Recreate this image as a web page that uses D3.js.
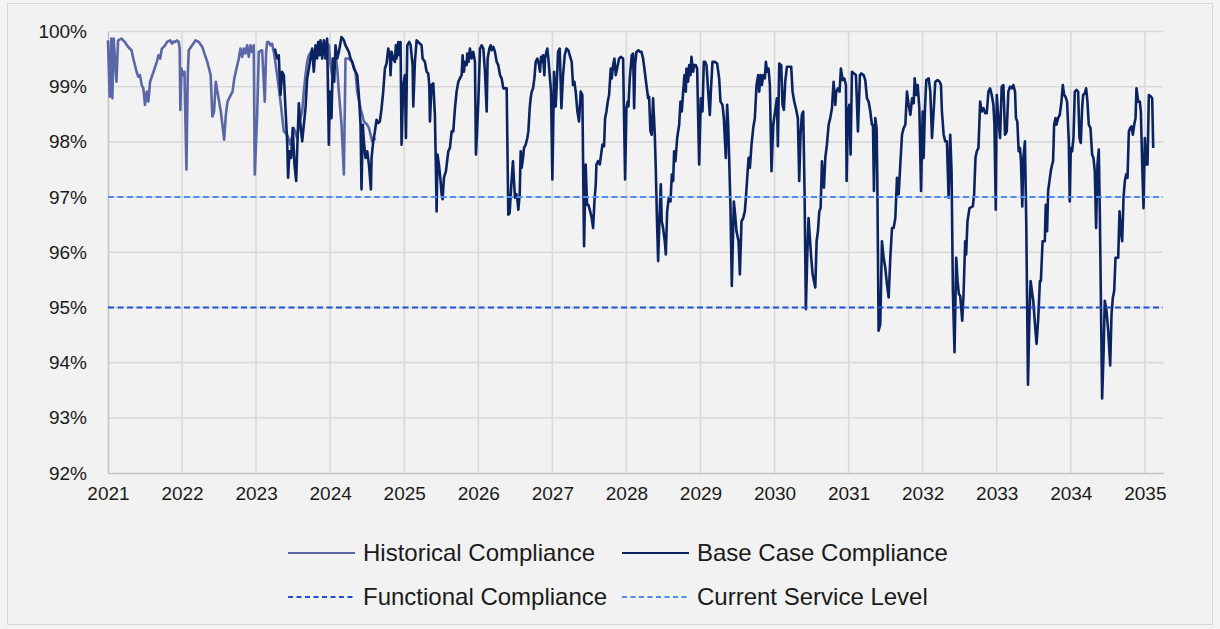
<!DOCTYPE html>
<html>
<head>
<meta charset="utf-8">
<script src="https://cdn.jsdelivr.net/npm/d3@7"></script>
<style>
  html, body { margin: 0; padding: 0; background: #f4f4f4; }
  svg { display: block; }
  text { font-family: "Liberation Sans", Arial, sans-serif; fill: #1a1a1a; }
</style>
</head>
<body>
<svg id="chart" width="1220" height="629"></svg>
<script>
// Weekly compliance, [decimal year, percent]
const historical = [
  [2021.000,99.84],[2021.023,98.82],[2021.045,99.87],[2021.059,98.79],[2021.077,99.87],[2021.114,99.09],
  [2021.136,99.84],[2021.182,99.87],[2021.227,99.81],[2021.273,99.72],[2021.318,99.66],[2021.341,99.51],
  [2021.386,99.27],[2021.409,99.18],[2021.432,99.21],[2021.455,99.03],[2021.477,98.97],[2021.500,98.67],
  [2021.523,98.91],[2021.545,98.73],[2021.568,99.09],[2021.614,99.27],[2021.659,99.45],[2021.682,99.57],
  [2021.705,99.51],[2021.727,99.69],[2021.773,99.75],[2021.795,99.81],[2021.841,99.84],[2021.864,99.78],
  [2021.886,99.82],[2021.909,99.81],[2021.932,99.84],[2021.955,99.81],[2021.968,99.69],[2021.977,98.58],
  [2021.991,99.33],[2022.014,99.21],[2022.032,99.27],[2022.059,97.50],[2022.077,99.21],[2022.091,99.66],
  [2022.136,99.75],[2022.182,99.84],[2022.227,99.81],[2022.273,99.72],[2022.295,99.63],[2022.341,99.45],
  [2022.364,99.33],[2022.386,99.21],[2022.409,98.46],[2022.432,98.55],[2022.455,99.09],[2022.477,98.91],
  [2022.500,98.73],[2022.523,98.55],[2022.545,98.31],[2022.568,98.04],[2022.591,98.49],[2022.614,98.73],
  [2022.636,98.79],[2022.659,98.85],[2022.682,98.91],[2022.705,99.15],[2022.766,99.51],[2022.788,99.69],
  [2022.811,99.54],[2022.833,99.69],[2022.856,99.60],[2022.878,99.75],[2022.901,99.54],[2022.923,99.75],
  [2022.946,99.63],[2022.968,99.75],[2022.982,97.41],[2023.014,98.49],[2023.036,99.63],[2023.081,99.66],
  [2023.117,98.73],[2023.135,99.63],[2023.149,99.81],[2023.171,99.81],[2023.194,99.75],[2023.216,99.78],
  [2023.239,99.63],[2023.284,99.21],[2023.329,98.73],[2023.374,98.19],[2023.419,98.13],[2023.464,97.95],
  [2023.509,98.25],[2023.554,98.07],[2023.577,98.31],[2023.622,98.55],[2023.644,98.91],[2023.667,99.21],
  [2023.689,99.45],[2023.712,99.57],[2023.757,99.66],[2023.802,99.63],[2023.847,99.69],[2023.892,99.75],
  [2023.937,99.81],[2023.982,99.75],[2024.005,99.39],[2024.027,99.21],[2024.072,99.57],[2024.095,99.33],
  [2024.117,98.91],[2024.153,98.31],[2024.185,97.41],[2024.207,99.51],[2024.252,99.51],[2024.297,99.45],
  [2024.342,99.27],[2024.365,98.91],[2024.410,98.61],[2024.455,98.37],[2024.500,98.31],[2024.523,98.25],
  [2024.568,98.01],[2024.613,98.07]
];

const baseCase = [
  [2023.252,99.69],[2023.284,99.51],[2023.306,99.57],[2023.329,98.85],[2023.351,99.27],[2023.374,99.21],
  [2023.396,98.61],[2023.419,98.01],[2023.432,97.35],[2023.450,97.83],[2023.473,97.71],[2023.495,98.25],
  [2023.518,97.59],[2023.541,97.29],[2023.554,97.83],[2023.577,98.70],[2023.599,98.31],[2023.622,98.01],
  [2023.644,98.31],[2023.667,98.61],[2023.689,99.15],[2023.712,99.33],[2023.734,99.51],[2023.757,99.69],
  [2023.779,99.27],[2023.802,99.75],[2023.824,99.51],[2023.838,99.81],[2023.856,99.57],[2023.869,99.84],
  [2023.892,99.51],[2023.914,99.84],[2023.937,99.51],[2023.959,99.87],[2023.982,97.95],[2023.995,98.91],
  [2024.018,98.43],[2024.036,99.51],[2024.054,99.09],[2024.072,99.75],[2024.095,99.51],[2024.117,99.63],
  [2024.153,99.90],[2024.185,99.84],[2024.207,99.75],[2024.252,99.63],[2024.275,99.51],[2024.297,99.45],
  [2024.320,99.33],[2024.342,99.27],[2024.365,99.21],[2024.387,98.85],[2024.410,98.31],[2024.423,97.14],
  [2024.441,98.31],[2024.455,98.01],[2024.477,97.71],[2024.500,97.83],[2024.523,97.59],[2024.550,97.14],
  [2024.559,97.71],[2024.581,98.01],[2024.604,98.19],[2024.626,98.40],[2024.649,98.34],[2024.671,98.37],
  [2024.694,98.61],[2024.716,98.91],[2024.739,99.33],[2024.761,99.42],[2024.784,99.69],[2024.806,99.57],
  [2024.815,99.21],[2024.829,99.63],[2024.851,99.51],[2024.874,99.45],[2024.887,99.75],[2024.896,99.51],
  [2024.919,99.81],[2024.932,99.57],[2024.950,99.81],[2024.964,97.95],[2024.986,99.03],[2025.009,99.21],
  [2025.023,98.07],[2025.041,99.75],[2025.068,99.81],[2025.086,99.75],[2025.113,99.39],[2025.122,98.64],
  [2025.144,99.45],[2025.167,99.84],[2025.189,99.81],[2025.212,99.78],[2025.234,99.75],[2025.248,99.51],
  [2025.279,99.45],[2025.302,99.27],[2025.324,99.24],[2025.338,99.03],[2025.347,98.37],[2025.369,99.03],
  [2025.392,99.06],[2025.414,98.49],[2025.428,97.47],[2025.437,96.74],[2025.450,97.77],[2025.468,97.59],
  [2025.491,97.29],[2025.505,97.05],[2025.518,96.96],[2025.536,97.35],[2025.563,97.47],[2025.595,97.83],
  [2025.617,97.89],[2025.640,98.19],[2025.662,98.19],[2025.685,98.61],[2025.707,98.91],[2025.730,99.09],
  [2025.752,99.15],[2025.775,99.21],[2025.788,99.57],[2025.806,99.27],[2025.820,99.45],[2025.842,99.39],
  [2025.851,99.60],[2025.869,99.45],[2025.887,99.69],[2025.910,99.51],[2025.932,99.63],[2025.955,99.45],
  [2025.968,97.77],[2025.977,98.01],[2026.000,98.73],[2026.023,99.69],[2026.045,99.75],[2026.068,99.69],
  [2026.090,99.27],[2026.113,98.55],[2026.126,99.51],[2026.149,99.69],[2026.167,99.75],[2026.180,99.66],
  [2026.203,99.72],[2026.225,99.63],[2026.248,99.45],[2026.270,99.39],[2026.293,99.21],[2026.315,99.15],
  [2026.338,98.97],[2026.383,98.97],[2026.405,96.68],[2026.423,96.71],[2026.446,97.23],[2026.468,97.65],
  [2026.482,97.29],[2026.495,96.99],[2026.514,97.05],[2026.527,96.96],[2026.541,96.77],[2026.559,97.05],
  [2026.572,97.83],[2026.586,97.53],[2026.604,97.71],[2026.617,97.89],[2026.640,97.95],[2026.662,98.07],
  [2026.676,98.19],[2026.694,98.61],[2026.707,98.79],[2026.721,98.91],[2026.739,98.97],[2026.757,99.15],
  [2026.775,99.45],[2026.797,99.51],[2026.820,99.39],[2026.833,99.27],[2026.847,99.54],[2026.865,99.45],
  [2026.874,99.57],[2026.892,99.21],[2026.901,99.51],[2026.919,99.63],[2026.932,99.69],[2026.946,99.51],
  [2026.964,99.21],[2026.982,98.91],[2027.000,97.32],[2027.023,99.27],[2027.045,98.64],[2027.059,99.03],
  [2027.077,99.63],[2027.099,99.69],[2027.122,98.61],[2027.144,99.21],[2027.167,99.57],[2027.189,99.69],
  [2027.216,99.66],[2027.234,99.57],[2027.261,99.45],[2027.279,99.03],[2027.297,99.09],[2027.315,98.91],
  [2027.338,98.55],[2027.360,98.37],[2027.383,98.91],[2027.405,98.85],[2027.419,97.11],[2027.428,96.11],
  [2027.450,97.59],[2027.468,96.86],[2027.486,96.86],[2027.505,96.77],[2027.532,96.62],[2027.550,96.44],
  [2027.568,96.92],[2027.586,97.23],[2027.595,97.59],[2027.617,97.65],[2027.640,97.59],[2027.658,97.77],
  [2027.676,97.95],[2027.698,97.92],[2027.712,98.43],[2027.730,98.55],[2027.748,98.73],[2027.766,98.85],
  [2027.788,99.33],[2027.802,99.15],[2027.820,99.39],[2027.838,99.51],[2027.856,99.21],[2027.874,99.33],
  [2027.901,99.51],[2027.923,99.54],[2027.955,99.51],[2027.982,97.32],[2028.000,98.61],[2028.018,98.73],
  [2028.027,98.64],[2028.045,99.15],[2028.072,99.57],[2028.090,99.60],[2028.104,98.61],[2028.117,99.39],
  [2028.135,99.63],[2028.162,99.66],[2028.185,99.63],[2028.203,99.63],[2028.225,99.51],[2028.248,99.27],
  [2028.270,99.03],[2028.293,98.79],[2028.306,98.82],[2028.324,98.19],[2028.342,98.13],[2028.360,98.79],
  [2028.383,98.13],[2028.396,97.53],[2028.414,96.50],[2028.428,95.84],[2028.450,96.74],[2028.464,97.23],
  [2028.477,96.56],[2028.495,96.44],[2028.518,96.20],[2028.532,95.96],[2028.550,96.74],[2028.572,96.99],
  [2028.595,96.92],[2028.613,97.41],[2028.631,97.29],[2028.644,97.83],[2028.662,97.65],[2028.685,98.07],
  [2028.712,98.31],[2028.730,98.73],[2028.748,98.55],[2028.766,98.91],[2028.784,99.21],[2028.802,98.91],
  [2028.811,99.33],[2028.833,99.09],[2028.847,99.39],[2028.865,99.21],[2028.878,99.54],[2028.901,99.27],
  [2028.914,99.39],[2028.937,99.39],[2028.955,99.33],[2028.982,97.59],[2029.005,98.79],[2029.027,98.55],
  [2029.045,99.45],[2029.063,99.45],[2029.081,99.39],[2029.104,98.91],[2029.126,98.49],[2029.140,98.91],
  [2029.162,99.45],[2029.194,99.45],[2029.225,99.42],[2029.252,99.15],[2029.270,98.73],[2029.297,98.67],
  [2029.315,98.43],[2029.342,97.71],[2029.360,98.67],[2029.374,98.31],[2029.387,97.71],[2029.405,96.80],
  [2029.423,95.39],[2029.450,96.92],[2029.468,96.68],[2029.486,96.38],[2029.514,96.20],[2029.532,95.60],
  [2029.554,96.56],[2029.577,96.62],[2029.599,96.74],[2029.613,96.99],[2029.631,97.35],[2029.649,97.71],
  [2029.667,97.53],[2029.689,97.95],[2029.712,98.25],[2029.734,98.43],[2029.757,99.03],[2029.779,99.21],
  [2029.793,98.91],[2029.811,99.21],[2029.829,99.03],[2029.847,99.21],[2029.869,99.15],[2029.883,99.45],
  [2029.901,99.27],[2029.919,99.33],[2029.937,99.03],[2029.959,97.47],[2029.982,98.31],[2030.032,98.79],
  [2030.045,97.92],[2030.063,99.42],[2030.090,99.39],[2030.108,98.67],[2030.126,98.58],[2030.144,99.09],
  [2030.167,99.36],[2030.225,99.36],[2030.243,98.91],[2030.266,98.73],[2030.288,98.61],[2030.315,98.43],
  [2030.333,97.29],[2030.351,98.13],[2030.369,98.49],[2030.387,98.55],[2030.405,97.11],[2030.423,94.97],
  [2030.441,95.90],[2030.459,96.62],[2030.477,96.26],[2030.495,95.90],[2030.514,95.60],[2030.532,95.48],
  [2030.550,95.36],[2030.568,96.20],[2030.586,96.38],[2030.604,96.74],[2030.622,96.80],[2030.640,97.65],
  [2030.653,97.23],[2030.667,97.17],[2030.685,97.71],[2030.707,97.95],[2030.730,98.31],[2030.752,98.43],
  [2030.775,98.61],[2030.797,99.09],[2030.820,98.67],[2030.833,98.91],[2030.856,98.97],[2030.878,98.91],
  [2030.896,99.33],[2030.919,99.12],[2030.941,99.15],[2030.964,99.03],[2030.973,97.29],[2030.991,98.55],
  [2031.009,98.67],[2031.027,97.77],[2031.045,99.27],[2031.072,99.24],[2031.099,99.21],[2031.126,98.19],
  [2031.153,99.21],[2031.171,99.24],[2031.203,99.21],[2031.225,99.12],[2031.248,98.79],[2031.270,98.73],
  [2031.293,98.55],[2031.315,98.31],[2031.329,98.31],[2031.342,97.11],[2031.360,98.43],[2031.378,98.25],
  [2031.387,97.41],[2031.405,94.58],[2031.428,94.70],[2031.450,96.20],[2031.473,95.90],[2031.495,95.72],
  [2031.518,95.42],[2031.541,95.18],[2031.563,95.90],[2031.586,96.44],[2031.608,96.44],[2031.631,96.62],
  [2031.653,97.35],[2031.676,97.05],[2031.698,97.59],[2031.721,98.13],[2031.743,98.25],[2031.766,98.31],
  [2031.788,98.91],[2031.811,98.67],[2031.834,98.49],[2031.857,98.79],[2031.879,98.70],[2031.892,99.15],
  [2031.915,98.85],[2031.933,99.03],[2031.955,98.61],[2031.978,97.11],[2032.000,98.55],[2032.013,97.71],
  [2032.031,98.61],[2032.049,99.12],[2032.081,99.15],[2032.103,98.91],[2032.126,98.07],[2032.148,98.55],
  [2032.170,99.09],[2032.202,99.12],[2032.229,99.09],[2032.247,99.03],[2032.260,98.55],[2032.283,98.13],
  [2032.305,98.01],[2032.327,98.01],[2032.350,96.99],[2032.372,98.13],[2032.390,97.47],[2032.408,95.30],
  [2032.430,94.19],[2032.453,95.90],[2032.471,95.48],[2032.489,95.24],[2032.507,95.21],[2032.534,94.76],
  [2032.552,95.24],[2032.574,96.20],[2032.587,95.96],[2032.605,96.56],[2032.632,96.80],[2032.677,96.83],
  [2032.695,97.05],[2032.713,97.71],[2032.731,97.83],[2032.753,97.89],[2032.776,98.73],[2032.798,98.55],
  [2032.821,98.61],[2032.843,98.52],[2032.865,98.52],[2032.888,98.91],[2032.910,98.97],[2032.933,98.85],
  [2032.955,98.67],[2032.969,98.31],[2032.987,96.77],[2033.000,98.85],[2033.022,98.43],[2033.045,98.07],
  [2033.067,99.00],[2033.090,99.03],[2033.112,98.13],[2033.135,98.19],[2033.157,98.91],[2033.179,99.00],
  [2033.202,98.97],[2033.224,99.03],[2033.247,98.91],[2033.260,98.43],[2033.278,98.37],[2033.296,97.83],
  [2033.314,97.89],[2033.327,97.65],[2033.345,96.83],[2033.359,97.71],[2033.381,98.01],[2033.399,96.50],
  [2033.422,93.60],[2033.439,94.70],[2033.457,95.48],[2033.475,95.30],[2033.493,95.12],[2033.516,94.70],
  [2033.538,94.34],[2033.561,94.82],[2033.583,95.48],[2033.596,95.48],[2033.619,96.20],[2033.637,96.20],
  [2033.649,96.20],[2033.662,96.86],[2033.680,96.38],[2033.694,97.11],[2033.712,97.29],[2033.730,97.47],
  [2033.748,97.59],[2033.761,97.65],[2033.775,98.31],[2033.793,98.43],[2033.806,98.31],[2033.829,98.43],
  [2033.851,98.49],[2033.874,98.73],[2033.892,99.03],[2033.910,98.85],[2033.928,98.82],[2033.950,98.73],
  [2033.973,98.01],[2033.986,96.92],[2034.000,97.89],[2034.018,97.83],[2034.036,98.07],[2034.054,98.91],
  [2034.077,98.94],[2034.099,98.91],[2034.117,98.07],[2034.135,97.98],[2034.153,98.61],[2034.167,98.85],
  [2034.189,98.88],[2034.207,98.97],[2034.225,98.73],[2034.243,98.31],[2034.266,98.25],[2034.288,97.77],
  [2034.306,97.71],[2034.324,97.47],[2034.342,96.44],[2034.360,97.59],[2034.378,97.86],[2034.392,96.74],
  [2034.405,95.30],[2034.423,93.35],[2034.441,94.10],[2034.459,95.12],[2034.482,94.94],[2034.505,94.58],
  [2034.532,93.95],[2034.550,94.88],[2034.568,95.18],[2034.586,95.30],[2034.604,95.90],[2034.640,95.90],
  [2034.658,96.74],[2034.676,96.38],[2034.694,96.20],[2034.712,96.99],[2034.730,97.29],[2034.748,97.41],
  [2034.766,97.35],[2034.784,98.19],[2034.802,98.25],[2034.820,98.28],[2034.838,98.13],[2034.856,98.31],
  [2034.874,98.43],[2034.887,98.97],[2034.910,98.73],[2034.932,98.73],[2034.946,98.55],[2034.964,97.59],
  [2034.982,96.80],[2035.000,98.07],[2035.018,97.59],[2035.036,97.59],[2035.054,98.85],[2035.081,98.82],
  [2035.099,98.79],[2035.113,97.89]
];

const functionalCompliance = 95;   // percent
const currentServiceLevel = 97;    // percent

const yearTicks = [2021, 2022, 2023, 2024, 2025, 2026, 2027, 2028, 2029, 2030, 2031, 2032, 2033, 2034, 2035];
const percentTicks = [92, 93, 94, 95, 96, 97, 98, 99, 100];

const legendItems = [
  { label: "Historical Compliance", color: "#5a66a6", dashed: false },
  { label: "Base Case Compliance", color: "#0b2461", dashed: false },
  { label: "Functional Compliance", color: "#1f50d3", dashed: true },
  { label: "Current Service Level", color: "#4a8cf7", dashed: true }
];

const svg = d3.select("#chart");

// frame
svg.append("rect")
  .attr("x", 7.5).attr("y", 3.5).attr("width", 1205).attr("height", 621)
  .attr("fill", "#f2f2f2").attr("stroke", "#d6d6d6").attr("stroke-width", 1);

const x = d3.scaleLinear().domain([2021, 2035.245]).range([108, 1163]);
const y = d3.scaleLinear().domain([92, 100]).range([473, 31.5]);

// grid
const grid = svg.append("g");
grid.selectAll("line.h").data(percentTicks.filter(d => d > 92)).join("line")
  .attr("x1", x(2021)).attr("x2", x.range()[1])
  .attr("y1", d => y(d)).attr("y2", d => y(d))
  .attr("stroke", "#d9d9d9").attr("stroke-width", 1.6);
grid.selectAll("line.v").data(yearTicks.slice(1)).join("line")
  .attr("x1", d => x(d)).attr("x2", d => x(d))
  .attr("y1", y(92)).attr("y2", y(100))
  .attr("stroke", "#d9d9d9").attr("stroke-width", 1.6);

// axes
const yAxis = svg.append("g").attr("transform", `translate(${x(2021)},0)`)
  .call(d3.axisLeft(y).tickValues(percentTicks).tickFormat(d => d + "%").tickSize(0).tickPadding(21));
const xAxis = svg.append("g").attr("transform", `translate(0,${y(92)})`)
  .call(d3.axisBottom(x).tickValues(yearTicks).tickFormat(d3.format("d")).tickSize(0).tickPadding(14));
[yAxis, xAxis].forEach(a => {
  a.select(".domain").attr("stroke", "#c4c4c4").attr("stroke-width", 1.6);
  a.selectAll("text").attr("font-size", 19).attr("fill", "#1a1a1a")
    .attr("font-family", "'Liberation Sans', Arial, sans-serif");
});

const line = d3.line().x(d => x(d[0])).y(d => y(d[1]));

svg.append("path").datum(historical)
  .attr("d", line).attr("fill", "none")
  .attr("stroke", legendItems[0].color).attr("stroke-width", 2.6).attr("stroke-linejoin", "round");
svg.append("path").datum(baseCase)
  .attr("d", line).attr("fill", "none")
  .attr("stroke", legendItems[1].color).attr("stroke-width", 2.6).attr("stroke-linejoin", "round");

// threshold levels
[[functionalCompliance, legendItems[2].color], [currentServiceLevel, legendItems[3].color]].forEach(([v, c]) => {
  svg.append("line")
    .attr("x1", x(2021)).attr("x2", x.range()[1])
    .attr("y1", y(v)).attr("y2", y(v))
    .attr("stroke", c).attr("stroke-width", 2).attr("stroke-dasharray", "6,3.5");
});

// legend
const legendPos = [[288, 553], [622, 553], [288, 597], [622, 597]];
const lg = svg.append("g");
legendItems.forEach((item, i) => {
  const [lx, ly] = legendPos[i];
  lg.append("line")
    .attr("x1", lx).attr("x2", lx + 67).attr("y1", ly).attr("y2", ly)
    .attr("stroke", item.color).attr("stroke-width", 2)
    .attr("stroke-dasharray", item.dashed ? "5,3.5" : null);
  lg.append("text")
    .attr("x", lx + 75).attr("y", ly).attr("dy", "0.35em")
    .attr("font-size", 24).text(item.label);
});
</script>
</body>
</html>
